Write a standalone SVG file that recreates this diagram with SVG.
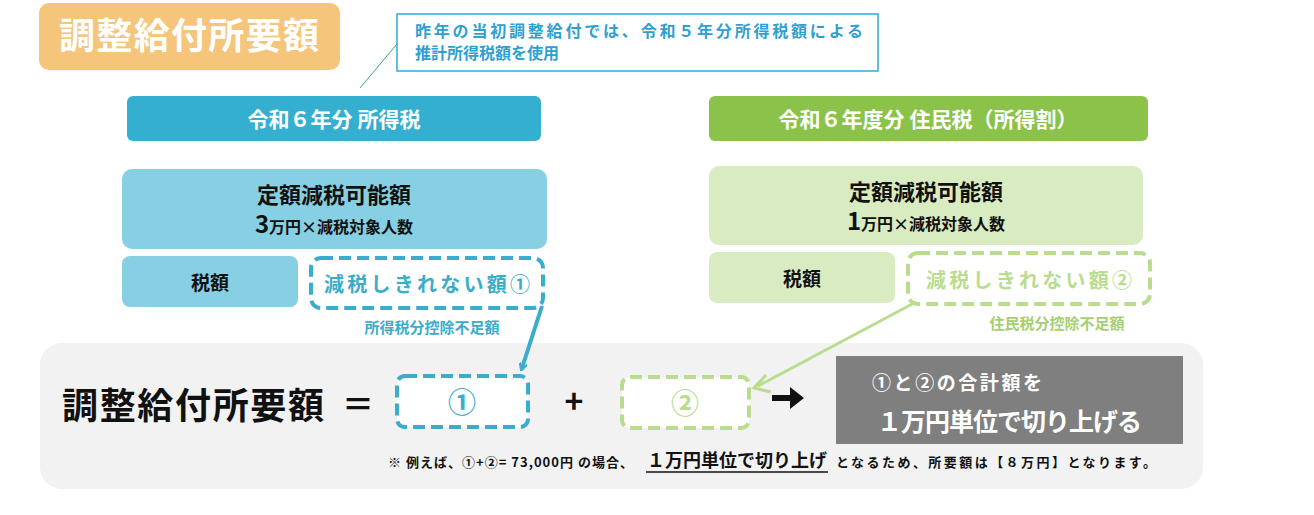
<svg xmlns="http://www.w3.org/2000/svg" width="1314" height="515" viewBox="0 0 1314 515">
<style>
text{font-family:"Noto Sans CJK JP","Noto Sans",sans-serif;font-weight:bold}
.w{fill:#fff}.k{fill:#111}
</style>
<defs>
<marker id="ab" markerWidth="8" markerHeight="8" refX="5" refY="4" orient="auto" markerUnits="userSpaceOnUse" viewBox="0 0 8 8"><path d="M0,0 L8,4 L0,8" fill="none" stroke="#3aaccc" stroke-width="2"/></marker>
</defs>
<rect width="1314" height="515" fill="#fff"/>
<g id="title"><rect x="39" y="3" width="301" height="67" rx="10" fill="#f6c57c"/><text x="189" y="49" text-anchor="middle" font-size="36" class="w" textLength="260">調整給付所要額</text></g>
<g id="note"><rect x="397" y="14" width="481" height="57" fill="#fff" stroke="#2eaadc" stroke-width="1.5"/><text x="415" y="37" font-size="16" fill="#2e9fd0" textLength="448">昨年の当初調整給付では、令和５年分所得税額による</text><text x="415" y="59" font-size="16" fill="#2e9fd0">推計所得税額を使用</text></g>
<g id="bg"><rect x="40" y="343" width="1163" height="146" rx="22" fill="#f2f2f2"/></g>
<g id="h1"><rect x="127" y="96" width="414" height="45" rx="6" fill="#35afd0"/><text x="334" y="127" text-anchor="middle" font-size="21" class="w">令和６年分 所得税</text></g>
<g id="h2"><rect x="709" y="96" width="439" height="45" rx="6" fill="#8bc34a"/><text x="928" y="127" text-anchor="middle" font-size="21" class="w">令和６年度分 住民税（所得割）</text></g>
<g id="b1"><rect x="122" y="169" width="425" height="80" rx="10" fill="#87cfe3"/><text x="334" y="203" text-anchor="middle" font-size="22" class="k">定額減税可能額</text><text x="334" y="233" text-anchor="middle" class="k"><tspan font-size="24">3</tspan><tspan font-size="16">万円×減税対象人数</tspan></text></g>
<g id="b2"><rect x="709" y="166" width="434" height="79" rx="10" fill="#d9ebc0"/><text x="926" y="200" text-anchor="middle" font-size="22" class="k">定額減税可能額</text><text x="926" y="230" text-anchor="middle" class="k"><tspan font-size="24">1</tspan><tspan font-size="16">万円×減税対象人数</tspan></text></g>
<g id="t1"><rect x="122" y="256" width="176" height="51" rx="8" fill="#87cfe3"/><text x="210" y="290" text-anchor="middle" font-size="19" class="k">税額</text></g>
<g id="t2"><rect x="709" y="252" width="186" height="51" rx="8" fill="#d9ebc0"/><text x="802" y="286" text-anchor="middle" font-size="19" class="k">税額</text></g>
<g id="d1"><rect x="311" y="258" width="232" height="50" rx="10" fill="#fff" stroke="#3aaccc" stroke-width="4" stroke-dasharray="12,6"/><text x="427" y="292" text-anchor="middle" font-size="20" fill="#3aaccc" textLength="206">減税しきれない額①</text><text x="432" y="333" text-anchor="middle" font-size="15" fill="#3aaccc">所得税分控除不足額</text></g>
<g id="d2"><rect x="908" y="253" width="242" height="51" rx="10" fill="#fff" stroke="#b9dc8f" stroke-width="4" stroke-dasharray="12,6"/><text x="1029" y="288" text-anchor="middle" font-size="20" fill="#b9dc8f" textLength="206">減税しきれない額②</text><text x="1057" y="329" text-anchor="middle" font-size="15" fill="#a6cf72">住民税分控除不足額</text></g>
<g id="eq"><text x="62" y="419" font-size="36" class="k" textLength="262">調整給付所要額</text><text x="342" y="416" font-size="32" class="k">＝</text></g>
<g id="c1"><rect x="397" y="376" width="131" height="51" rx="8" fill="#fff" stroke="#3aaccc" stroke-width="4" stroke-dasharray="12,6"/><text x="462" y="413" text-anchor="middle" font-size="28" fill="#3aaccc">①</text></g>
<text x="574" y="413" text-anchor="middle" font-size="32" class="k">+</text>
<g id="c2"><rect x="622" y="377" width="127" height="51" rx="8" fill="#fff" stroke="#b9dc8f" stroke-width="4" stroke-dasharray="12,6"/><text x="685" y="414" text-anchor="middle" font-size="28" fill="#b9dc8f">②</text></g>
<path d="M772,395 h18 v-8 l14,11 l-14,11 v-8 h-18z" fill="#111"/>
<g id="res"><rect x="836" y="356" width="347" height="88" fill="#7f7f7f"/><text x="872" y="390" font-size="19" class="w" textLength="170">①と②の合計額を</text><text x="877" y="431" font-size="25" class="w" textLength="265">１万円単位で切り上げる</text></g>
<g id="foot" font-size="13"><text x="388" y="467" font-weight="normal" class="k" textLength="245">※ 例えば、①+②= 73,000円 の場合、</text><text x="647" y="467" font-size="18" class="k" textLength="180">１万円単位で切り上げ</text><line x1="646" y1="472" x2="828" y2="472" stroke="#111" stroke-width="1.5"/><text x="836" y="467" font-weight="normal" class="k" textLength="320">となるため、<tspan font-weight="bold">所要額は【８万円】となります。</tspan></text></g>
<g id="connectors">
<line x1="360" y1="88" x2="397" y2="44" stroke="#2eaa8c" stroke-width="1"/>
<line x1="542" y1="306" x2="522" y2="368" stroke="#3aaccc" stroke-width="4" marker-end="url(#ab)"/>
<line x1="916" y1="302" x2="758" y2="386" stroke="#b9dc8f" stroke-width="3"/>
<path d="M766,375 L754,388 L771,392" fill="none" stroke="#b9dc8f" stroke-width="3"/>
</g>
</svg>
